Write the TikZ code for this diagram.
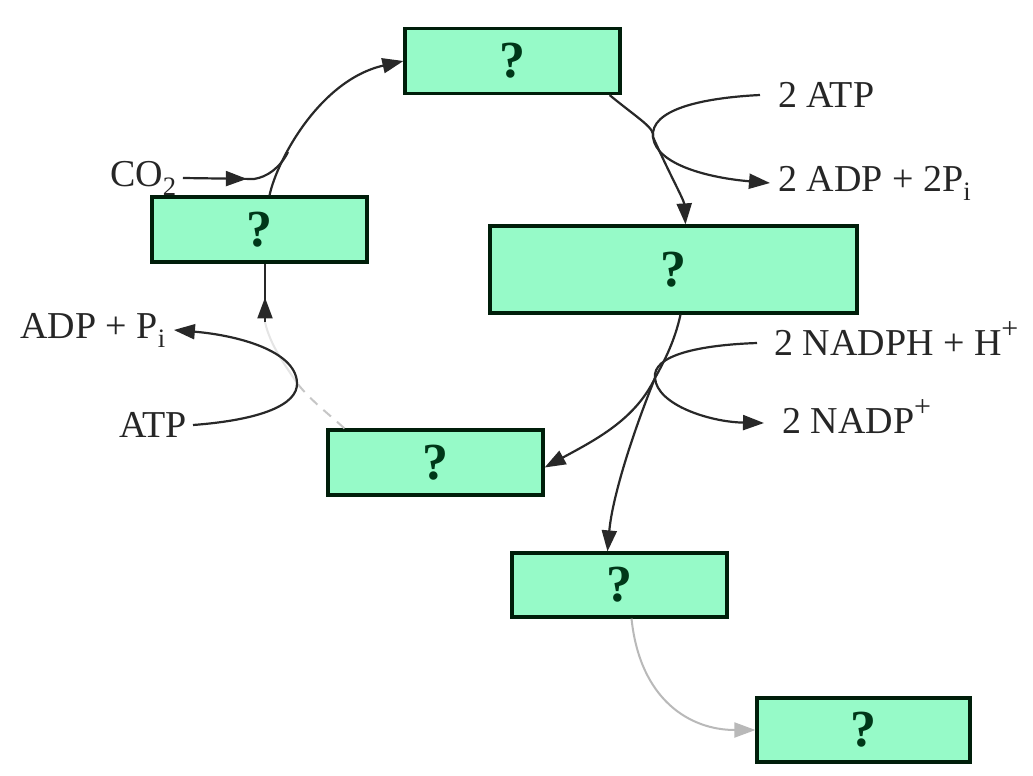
\documentclass[tikz,border=0pt]{standalone}
\usepackage{fontspec}
\setmainfont{Liberation Serif}
\usetikzlibrary{arrows.meta,decorations.markings}
\definecolor{boxfill}{RGB}{150,250,200}
\definecolor{boxline}{RGB}{0,30,10}
\definecolor{qcol}{RGB}{0,55,25}
\definecolor{lncol}{RGB}{40,40,40}
\tikzset{
  box/.style={draw=boxline, fill=boxfill, line width=3.2pt, minimum width=215pt, minimum height=65pt, inner sep=0pt,
    font=\bfseries\fontsize{52}{52}\selectfont, text=qcol},
  lbl/.style={inner sep=0pt, anchor=west, font=\fontsize{38}{42}\selectfont, text=black!85},
  conn/.style={draw=lncol, line width=2.2pt},
  tip/.style={-{Triangle[length=21pt,width=15pt]}},
  arr/.style={conn, tip},
  midarr/.style={conn, postaction=decorate, decoration={markings, mark=at position #1 with {\arrow{Triangle[length=21pt,width=15pt]}}}},
}
\newcommand{\supplus}{\raisebox{0.45em}{\fontsize{30}{30}\selectfont +}}
\begin{document}
\begin{tikzpicture}[x=1pt,y=-1pt]
\useasboundingbox[fill=white] (0,0) rectangle (1033,776);
% boxes
\node[box] (A) at (512.5,61) {?};
\node[box] (B) at (259.5,229.5) {?};
\node[box, minimum width=367pt, minimum height=87pt] (C) at (673.5,269.5) {?};
\node[box] (D) at (435.5,462.5) {?};
\node[box, minimum height=64pt] (E) at (619.5,585) {?};
\node[box, minimum width=213pt, minimum height=64pt] (F) at (863.5,730) {?};
% labels
\node[lbl] (co2) at (110,178) {CO\textsubscript{2}};
\node[lbl] (adp) at (20,330) {ADP + P\textsubscript{i}};
\node[lbl, anchor=east] (atp) at (187,425) {ATP};
\node[lbl] (atp2) at (778,95) {2 ATP};
\node[lbl] (adp2) at (778,183) {2 ADP + 2P\textsubscript{i}};
\node[lbl] (nadph) at (774,339) {2 NADPH + H\supplus};
\node[lbl] (nadp) at (782,417) {2 NADP\supplus};
% junction coordinates
\coordinate (j1) at (288,152);
\coordinate (j2) at (655,378);
\coordinate (j3) at (297,383);
\coordinate (j4) at (265,322);
\coordinate (j5) at (653,137);
% B -> A
\draw[arr] ([xshift=10pt]B.north) .. controls (277,160) and (320,80) .. (A.west);
% CO2 joins
\draw[midarr=0.55] ([xshift=6pt]co2.east) -- (254,179) .. controls (267,177) and (280,168) .. (j1);
% A -> C
\draw[arr] ([xshift=-12pt]A.south east) .. controls (640,120) and (655,128) .. (j5) .. controls (670,175) and (684,200) .. ([xshift=12pt]C.north);
% 2 ATP -> 2 ADP + 2Pi
\draw[arr] ([xshift=-18pt]atp2.west) .. controls (700,98) and (650,110) .. (j5) .. controls (656,165) and (710,178) .. ([xshift=-8pt]adp2.west);
% C -> D
\draw[arr] ([xshift=7pt]C.south) .. controls (675,340) and (665,360) .. (j2) .. controls (635,420) and (595,440) .. ([yshift=-5pt]D.east);
% branch -> E
\draw[arr] (j2) .. controls (630,440) and (612,500) .. ([xshift=-12pt]E.north);
% 2 NADPH -> 2 NADP+
\draw[arr] ([xshift=-17pt,yshift=-4pt]nadph.west) .. controls (700,345) and (652,355) .. (j2) .. controls (657,405) and (710,422) .. ([xshift=-18pt,yshift=-6pt]nadp.west);
% D -> B (faded lower part)
\draw[draw=gray!45, line width=2pt, dash pattern=on 10pt off 8pt] ([xshift=18pt]D.north west) .. controls (330,415) and (310,400) .. (j3);
\draw[draw=gray!20, line width=2pt] (j3) .. controls (285,365) and (270,345) .. (j4);
\draw[midarr=0.42] (j4) -- ([xshift=5.5pt]B.south);
% ATP -> ADP + Pi
\draw[arr] ([xshift=6pt]atp.east) .. controls (260,420) and (298,405) .. (j3) .. controls (296,350) and (235,335) .. ([xshift=8pt]adp.east);
% E -> F
\draw[draw=gray!55, line width=2pt, -{Triangle[length=21pt,width=15pt]}] ([xshift=12pt]E.south) .. controls (640,700) and (690,730) .. (F.west);
\end{tikzpicture}
\end{document}
